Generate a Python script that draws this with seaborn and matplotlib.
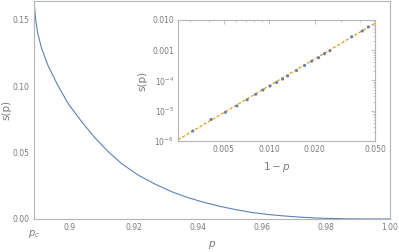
import numpy as np
import pandas as pd
import matplotlib
matplotlib.use("Agg")
import matplotlib.pyplot as plt
import matplotlib.ticker as mticker
import seaborn as sns

# ---- data ----
p_c = 0.88875
main_p = [0.88875, 0.8893, 0.8899, 0.8912, 0.8932, 0.8963, 0.8995, 0.9037, 0.9078,
          0.9120, 0.9162, 0.9213, 0.9266, 0.9318, 0.9369, 0.9419, 0.9469, 0.9519,
          0.9569, 0.9619, 0.9669, 0.9719, 0.9769, 0.9819, 0.9869, 0.9919, 1.0000]
main_s = [0.1634, 0.1495, 0.1398, 0.1277, 0.1150, 0.1000, 0.0865, 0.0730, 0.0610,
          0.0505, 0.0415, 0.0330, 0.0262, 0.0205, 0.0160, 0.0125, 0.0095, 0.0070,
          0.0049, 0.0034, 0.0023, 0.0014, 0.00076, 0.00038, 0.00014, 0.000035, 0.0]

inset_x = [0.00313, 0.00413, 0.00514, 0.00612, 0.00716, 0.00815, 0.0091, 0.01014,
           0.0112, 0.01225, 0.01324, 0.01516, 0.01713, 0.0191, 0.0212, 0.0232,
           0.0252, 0.0351, 0.0412, 0.0452]
inset_y = [2.14e-6, 5.14e-6, 8.9e-6, 1.44e-5, 2.30e-5, 3.50e-5, 4.85e-5, 6.58e-5,
           8.59e-5, 1.12e-4, 1.41e-4, 2.14e-4, 3.13e-4, 4.35e-4, 5.67e-4, 7.69e-4,
           9.66e-4, 2.78e-3, 4.33e-3, 5.87e-3]
fit_x = [0.0025, 0.05]
fit_y = [1.1e-6, 7.8e-3]

main_xticks = [0.9, 0.92, 0.94, 0.96, 0.98, 1.00]
main_xlabels = ["0.9", "0.92", "0.94", "0.96", "0.98", "1.00"]
main_yticks = [0.0, 0.05, 0.10, 0.15]
main_ylabels = ["0.00", "0.05", "0.10", "0.15"]
inset_xticks = [0.005, 0.010, 0.020, 0.050]
inset_xlabels = ["0.005", "0.010", "0.020", "0.050"]
inset_yticks = [1e-6, 1e-5, 1e-4, 1e-3, 1e-2]
inset_ylabels = [r"$10^{-6}$", r"$10^{-5}$", r"$10^{-4}$", "0.001", "0.010"]

# ---- style ----
sns.set_style("white")
plt.rcParams['font.family'] = ['DejaVu Sans']
plt.rcParams['mathtext.fontset'] = 'dejavusans'

FRAME = "#b4b4b4"
TXT = "#7a7a7a"
BLUE = "#5E81B5"
ORANGE = "#E19C24"

fig = plt.figure(figsize=(3.99, 2.52), dpi=100)
ax = fig.add_axes([34/399, 1 - 219/252, 356/399, 218.5/252])

df_main = pd.DataFrame({"p": main_p, "s": main_s})
sns.lineplot(data=df_main, x="p", y="s", ax=ax, color=BLUE, linewidth=0.8)
ax.set_xlim(p_c, 1.0)
ax.set_ylim(0, 219 / 1333)
ax.set_xticks(main_xticks)
ax.set_xticklabels(main_xlabels)
ax.set_yticks(main_yticks)
ax.set_yticklabels(main_ylabels)
ax.xaxis.set_minor_locator(mticker.MultipleLocator(0.005))
ax.yaxis.set_minor_locator(mticker.MultipleLocator(0.01))
ax.tick_params(which="both", direction="in", colors=FRAME, labelcolor=TXT,
               labelsize=5.5, pad=3)
ax.tick_params(which="major", length=3, width=0.6)
ax.tick_params(which="minor", length=1.6, width=0.5)
for sp in ax.spines.values():
    sp.set_color(FRAME)
    sp.set_linewidth(0.8)
ax.set_xlabel("$p$", color=TXT, fontsize=7.5, labelpad=5)
ax.set_ylabel("s(p)", color=TXT, fontsize=7.5, labelpad=1)
ax.text(p_c, -0.0065, "$p_c$", transform=ax.transData, color=TXT, fontsize=7,
        ha="center", va="top")

# ---- inset ----
ax2 = fig.add_axes([178/399, 1 - 141/252, 197/399, 121/252])
df_pts = pd.DataFrame({"x": inset_x, "y": inset_y})
df_fit = pd.DataFrame({"x": fit_x, "y": fit_y})
ax2.set_xscale("log")
ax2.set_yscale("log")
sns.lineplot(data=df_fit, x="x", y="y", ax=ax2, color=ORANGE, linewidth=0.9,
             linestyle=(0, (2.5, 1.5)))
sns.scatterplot(data=df_pts, x="x", y="y", ax=ax2, color="#6b7fa5", s=5,
                edgecolor="none", zorder=3)
ax2.set_xlim(0.0025, 0.05)
ax2.set_ylim(1e-6, 1e-2)
ax2.set_xticks(inset_xticks)
ax2.set_xticklabels(inset_xlabels)
ax2.set_yticks(inset_yticks)
ax2.set_yticklabels(inset_ylabels)
ax2.xaxis.set_minor_locator(mticker.LogLocator(base=10, subs=np.arange(2, 10)))
ax2.xaxis.set_minor_formatter(mticker.NullFormatter())
ax2.yaxis.set_minor_locator(mticker.LogLocator(base=10, subs=np.arange(2, 10)))
ax2.yaxis.set_minor_formatter(mticker.NullFormatter())
ax2.tick_params(which="both", direction="in", colors=FRAME, labelcolor=TXT,
                labelsize=5.5, top=True, right=True, pad=3)
ax2.tick_params(which="major", length=3, width=0.6)
ax2.tick_params(which="minor", length=1.5, width=0.5)
for sp in ax2.spines.values():
    sp.set_color(FRAME)
    sp.set_linewidth(0.8)
ax2.set_xlabel("$1-p$", color=TXT, fontsize=7.5, labelpad=4)
ax2.set_ylabel("s(p)", color=TXT, fontsize=7.5, labelpad=3)

fig.savefig("out.png", dpi=100)
